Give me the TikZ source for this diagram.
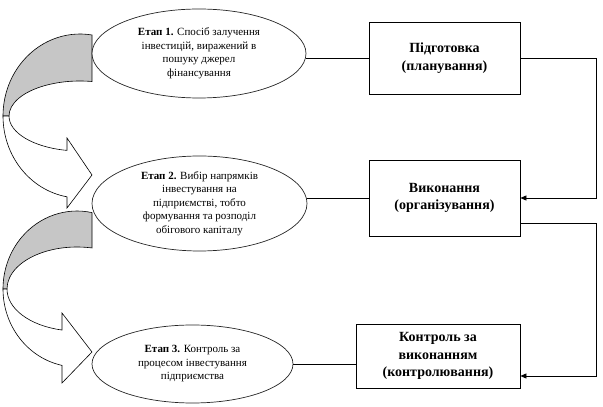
\documentclass[tikz,border=0pt]{standalone}
\usepackage{fontspec}
\setmainfont{Liberation Serif}
\usetikzlibrary{shapes.geometric,arrows.meta,calc}
\begin{document}
\begin{tikzpicture}[x=1pt,y=1pt,
 ell/.style={ellipse,draw=black!85,line width=0.7pt,fill=white,inner sep=0pt,align=center,font=\fontsize{11}{13.5}\selectfont},
 box/.style={rectangle,draw,line width=0.7pt,fill=white,inner sep=0pt,align=center,font=\fontsize{14}{17.5}\selectfont\bfseries},
 conn/.style={line width=0.7pt},
 arr/.style={conn,-{Triangle[length=6pt,width=5pt]}},
 band/.style={draw,line width=0.6pt}]
\useasboundingbox (0,0) rectangle (603,407);
% curved arrow 1
\filldraw[band,fill=gray!45] ($(80,291)+(81:77 and 82)$) arc[start angle=81,end angle=180,x radius=77,y radius=82] -- (9,291) arc[start angle=180,end angle=80.3,x radius=71,y radius=35] -- cycle;
\filldraw[band,fill=white] (3,291) arc[start angle=180,end angle=260.3,x radius=77,y radius=82] -- (67,199) -- (92,232) -- (67,269) -- ($(80,291)+(259.45:71 and 35)$) arc[start angle=259.45,end angle=180,x radius=71,y radius=35] -- cycle;
% curved arrow 2
\filldraw[band,fill=gray!45] ($(77,118)+(78.3:74 and 78)$) arc[start angle=78.3,end angle=180,x radius=74,y radius=78] -- (7,118) arc[start angle=180,end angle=77.6,x radius=70,y radius=42] -- cycle;
\filldraw[band,fill=white] (3,118) arc[start angle=180,end angle=258.3,x radius=74,y radius=78] -- (62,24) -- (92,55) -- (62,94) -- ($(77,118)+(257.6:70 and 42)$) arc[start angle=257.6,end angle=180,x radius=70,y radius=42] -- cycle;
% ellipses
\node[ell,minimum width=214pt,minimum height=89pt] (E1) at (199,353.5) {\textbf{Етап 1.} Спосіб залучення\\інвестицій, виражений в\\пошуку джерел\\фінансування};
\node[ell,minimum width=215pt,minimum height=95pt] (E2) at (199.5,203.5) {\textbf{Етап 2.} Вибір напрямків\\інвестування на\\підприємстві, тобто\\формування та розподіл\\обігового капіталу};
\node[ell,minimum width=201pt,minimum height=78pt] (E3) at (192.5,43) {\textbf{Етап 3.} Контроль за\\процесом інвестування\\підприємства};
% boxes
\node[box,minimum width=151pt,minimum height=72pt] (B1) at (444.5,349) {Підготовка\\(планування)};
\node[box,minimum width=151pt,minimum height=76pt] (B2) at (444.5,209) {Виконання\\(організування)};
\node[box,minimum width=164pt,minimum height=64pt] (B3) at (438,51) {Контроль за\\виконанням\\(контролювання)};
% connectors
\coordinate (R) at (596,0);
\draw[conn] (B1.west) -- (B1.west -| E1.east);
\draw[conn] (B2.west) -- (B2.west -| E2.east);
\draw[conn] (E3.east) -- (E3.east -| B3.west);
\draw[arr] (B1.east) -- (B1.east -| R) |- (B2.east);
\draw[arr] ([yshift=-25pt]B2.east) -- ([yshift=-25pt]B2.east -| R) |- ([yshift=-20pt]B3.east);
\end{tikzpicture}
\end{document}
